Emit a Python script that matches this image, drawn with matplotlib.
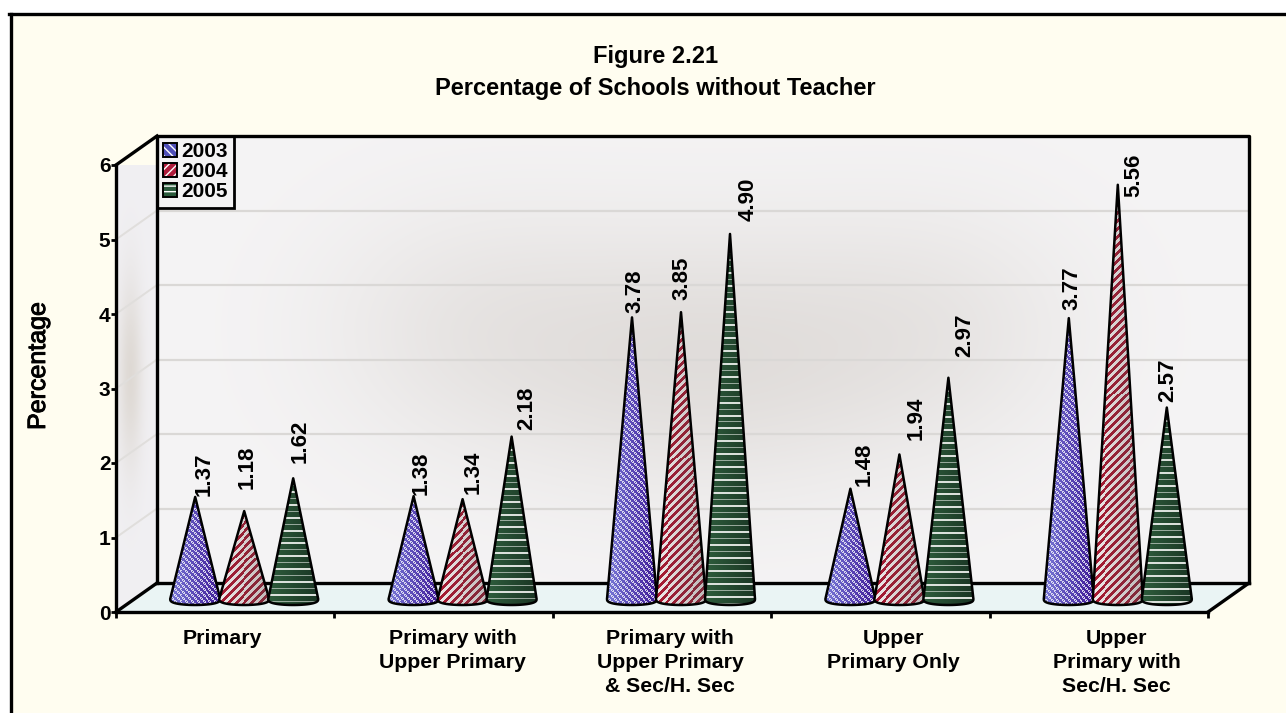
import numpy as np
import matplotlib
matplotlib.use("Agg")
import matplotlib.pyplot as plt
import matplotlib.patheffects as pe
from matplotlib.patches import Patch, Polygon, Rectangle
from matplotlib.legend_handler import HandlerTuple

plt.rcParams["font.family"] = ["Liberation Sans", "DejaVu Sans"]
plt.rcParams["font.weight"] = "bold"

# Data
categories = ["Primary", "Primary with\nUpper Primary", "Primary with\nUpper Primary\n& Sec/H. Sec",
              "Upper\nPrimary Only", "Upper\nPrimary with\nSec/H. Sec"]
years = ["2003", "2004", "2005"]
values_2003 = [1.37, 1.38, 3.78, 1.48, 3.77]
values_2004 = [1.18, 1.34, 3.85, 1.94, 5.56]
values_2005 = [1.62, 2.18, 4.90, 2.97, 2.57]
y_ticks = [0, 1, 2, 3, 4, 5, 6]

# Layout, in pixels of the 1286x713 picture
W, H = 1286, 713
left, right, top, bottom = 116, 1208, 165, 612
px_x = (right - left) / 5
px_y = (bottom - top) / 6
depth_x = 41 / px_x
depth_y = 29 / px_y
cone_step = 49 / px_x
cone_hw = 25 / px_x
cone_shift_x = 19 / px_x
cone_shift_y = 13 / px_y

# nudges of the value labels from the cone tip (pixels right, pixels up)
label_nudge = {
    "2003": [(9, 23), (8, 23), (3, 26), (14, 24), (3, 30)],
    "2004": [(3, 44), (11, 27), (1, 34), (17, 36), (16, 9)],
    "2005": [(7, 37), (15, 28), (18, 35), (16, 42), (1, 27)],
}
cat_nudge = [-3, 9, 8, 13, 18]

CREAM = "#FFFDF0"
fig = plt.figure(figsize=(W / 100, H / 100), dpi=100, facecolor="white")
fig.add_artist(Rectangle((10 / W, 0), (W - 10) / W, (H - 14) / H, transform=fig.transFigure,
                         facecolor=CREAM, edgecolor="none", zorder=-5))
fig.add_artist(plt.Line2D([10.5 / W, 10.5 / W], [1 / H, (H - 13.5) / H], color="black", lw=2.4))
fig.add_artist(plt.Line2D([9 / W, 1], [(H - 13.5) / H, (H - 13.5) / H], color="black", lw=2.4))

ax = fig.add_axes([left / W, 1 - bottom / H, (right - left) / W, (bottom - top) / H])
ax.patch.set_visible(False)
ax.set_xlim(0, 5)
ax.set_ylim(0, 6)


def wall_texture():
    # soft grey glow on the back wall
    yy, xx = np.mgrid[0:1:224j, 0:1:546j]
    glow = 0.62 * np.exp(-(((xx - 0.5) / 0.2) ** 2 + ((yy - 0.5) / 0.3) ** 2))
    glow += 0.30 * np.exp(-(((xx - 0.28) / 0.14) ** 2 + ((yy - 0.42) / 0.28) ** 2))
    glow += 0.30 * np.exp(-(((xx - 0.72) / 0.14) ** 2 + ((yy - 0.42) / 0.28) ** 2))
    base = np.array([245, 244, 245]) / 255
    dark = np.array([214, 209, 205]) / 255
    return base + np.clip(glow, 0, 1)[..., None] * (dark - base)


wall = ax.imshow(wall_texture(), extent=(depth_x, 5 + depth_x, depth_y, 6 + depth_y),
                 aspect="auto", zorder=0, clip_on=False, interpolation="bilinear")

# left side wall
side_xy = [(0, 0), (depth_x, depth_y), (depth_x, 6 + depth_y), (0, 6)]
side = Polygon(side_xy, closed=True, facecolor="none", edgecolor="none", clip_on=False,
               transform=ax.transData)
ax.add_patch(side)
yy, xx = np.mgrid[0:1:224j, 0:1:41j]
side_glow = np.exp(-(((xx - 0.35) / 0.3) ** 2 + ((yy - 0.5) / 0.2) ** 2)) * 0.8
side_img = np.array([241, 240, 243]) / 255 + side_glow[..., None] * (np.array([218, 212, 205]) - np.array([241, 240, 243])) / 255
im = ax.imshow(side_img, extent=(0, depth_x, 0, 6 + depth_y), aspect="auto", zorder=0.5, clip_on=True)
im.set_clip_path(side)

# floor
ax.add_patch(Polygon([(0, 0), (depth_x, depth_y), (5 + depth_x, depth_y), (5, 0)], closed=True,
                     facecolor="#EAF4F4", edgecolor="none", zorder=1, clip_on=False))

# grid lines on the walls
for t in y_ticks[1:-1]:
    ax.plot([depth_x, 5 + depth_x], [t + depth_y, t + depth_y], color="#DAD8D6", lw=1.6, zorder=1.5, clip_on=False)
    ax.plot([0, depth_x], [t, t + depth_y], color="#E0DEDC", lw=1.4, zorder=1.5, clip_on=False)

# heavy outlines of the box
outline = dict(color="black", lw=2.4, zorder=2, clip_on=False, solid_capstyle="projecting")
ax.plot([depth_x, depth_x, 5 + depth_x, 5 + depth_x], [depth_y, 6 + depth_y, 6 + depth_y, depth_y], **outline)
ax.plot([depth_x, 5 + depth_x], [depth_y, depth_y], **outline)
ax.plot([0, depth_x], [6, 6 + depth_y], **outline)
ax.plot([0, depth_x], [0, depth_y], **outline)
ax.plot([5, 5 + depth_x], [0, depth_y], **outline)

for side_name in ["top", "right"]:
    ax.spines[side_name].set_visible(False)
ax.spines["left"].set_linewidth(2.4)
ax.spines["bottom"].set_linewidth(2.4)
ax.set_yticks(y_ticks)
ax.set_xticks(range(6))
ax.set_xticklabels([])
ax.tick_params(axis="both", width=2, length=4.5, pad=0.5, colors="black")
ax.tick_params(axis="y", labelsize=15, length=3.5)
ylab = ax.set_ylabel("Percentage", fontsize=18, color="black", fontweight="normal")
ylab.set_path_effects([pe.withStroke(linewidth=0.7, foreground="black")])
ax.yaxis.set_label_coords(-66 / (right - left), 0.55)

# textures for the cones
def stripes(year, w, h):
    yy, xx = np.mgrid[0:h, 0:w]
    u = xx / (w - 1)
    if year == "2003":
        light = np.array([120, 120, 215]) / 255
        dark = np.array([62, 25, 150]) / 255
        col = light + (dark - light)[None, None] * u[..., None]
        mask = (((xx - yy) % 6) < 3) & (((xx + yy) % 3) != 0)
        white = np.array([238, 238, 248]) / 255
        return np.where(mask[..., None], col + 0.85 * (white - col), col)
    if year == "2004":
        light = np.array([170, 25, 50]) / 255
        dark = np.array([125, 45, 60]) / 255
        col = light + (dark - light)[None, None] * u[..., None]
        mask = ((xx + yy) % 8) < 4
        white = np.array([240, 234, 234]) / 255 - 0.2 * u[..., None]
        return np.where(mask[..., None], white, col)
    light = np.array([46, 92, 60]) / 255
    dark = np.array([26, 54, 36]) / 255
    col = light + (dark - light)[None, None] * u[..., None]
    white = np.array([228, 232, 228]) / 255
    strong = (yy % 13) < 2
    faint = ((yy + 6) % 13) < 1
    out = np.where(strong[..., None], col + 0.95 * (white - col), col)
    return np.where(faint[..., None], col + 0.6 * (white - col), out)


series = {"2003": values_2003, "2004": values_2004, "2005": values_2005}
for j, year in enumerate(years):
    for i, v in enumerate(series[year]):
        xc = i + 0.5 + cone_shift_x + (j - 1) * cone_step
        base_y = cone_shift_y
        tip_y = v + cone_shift_y
        t = np.linspace(np.pi, 2 * np.pi, 30)
        ell_x = xc + cone_hw * np.cos(t)
        ell_y = base_y + (6 / px_y) * -np.abs(np.sin(t)) ** 0.7
        verts = [(xc, tip_y)] + list(zip(ell_x, ell_y))
        poly = Polygon(verts, closed=True, facecolor="none", edgecolor="black", lw=1.8,
                       joinstyle="round", zorder=5 + j, clip_on=False)
        ax.add_patch(poly)
        w_px = int(2 * cone_hw * px_x) + 2
        h_px = max(int((v + 6 / px_y) * px_y) + 2, 4)
        img = ax.imshow(stripes(year, w_px, h_px), aspect="auto", interpolation="nearest",
                        extent=(xc - cone_hw, xc + cone_hw, base_y - 6 / px_y, tip_y),
                        zorder=4.5 + j, clip_on=True)
        img.set_clip_path(Polygon(verts, closed=True, transform=ax.transData))
        nx, ny = label_nudge[year][i]
        ax.annotate(f"{v:.2f}", xy=(xc, tip_y), xytext=(nx, ny), textcoords="offset pixels",
                    rotation=90, ha="center", va="center", fontsize=16, color="black",
                    zorder=10, annotation_clip=False)

ax.set_xlim(0, 5)
ax.set_ylim(0, 6)

# category names
for i, name in enumerate(categories):
    ax.annotate(name, xy=(i + 0.5, 0), xytext=(cat_nudge[i], -17), textcoords="offset pixels",
                ha="center", va="top", fontsize=15.3, linespacing=1.35, annotation_clip=False)

# titles
fig.text(656 / W, 1 - 56 / H, "Figure 2.21", ha="center", va="center", fontsize=17)
fig.text(655 / W, 1 - 88 / H, "Percentage of Schools without Teacher", ha="center", va="center", fontsize=17)

# legend
colors = {"2003": "#4F4FB8", "2004": "#B01C3C", "2005": "#2A5A3C"}
hatches = {"2003": "\\\\\\\\", "2004": "////", "2005": "---"}
handles = []
for year in years:
    fill = Patch(facecolor=colors[year], edgecolor="white", hatch=hatches[year], lw=0)
    box = Patch(facecolor="none", edgecolor="black", lw=1.4)
    handles.append((fill, box))
leg = ax.legend(handles, years, handler_map={tuple: HandlerTuple(ndivide=1, pad=0)},
                loc="upper left", bbox_to_anchor=(depth_x / 5, 1 + depth_y / 6),
                borderaxespad=0, fontsize=15, frameon=True, fancybox=False,
                edgecolor="black", handlelength=0.67, handleheight=0.67, handletextpad=0.2,
                labelspacing=0.05, borderpad=0.3)
leg.get_frame().set_facecolor("none")
leg.get_frame().set_alpha(None)
leg.get_frame().set_edgecolor("black")
leg.get_frame().set_linewidth(2)
leg.set_zorder(12)

fig.savefig("out.png", dpi=100)
